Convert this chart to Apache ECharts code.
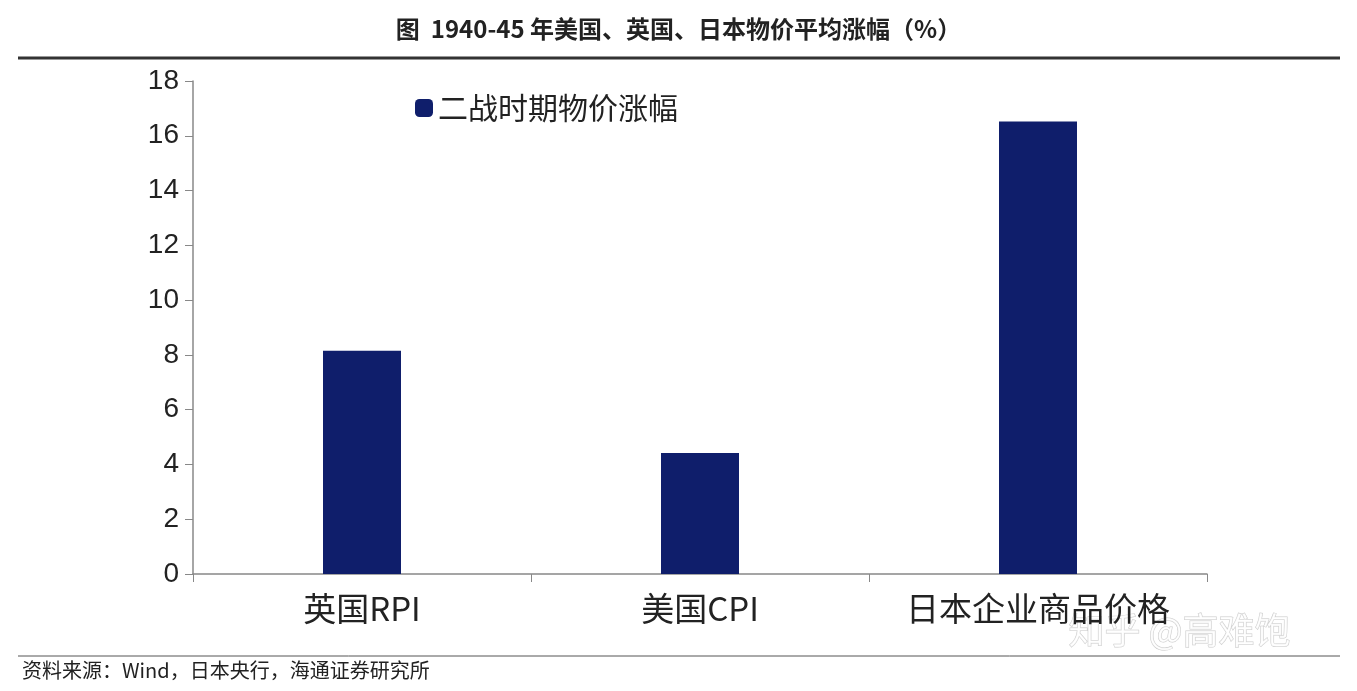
<!DOCTYPE html>
<html><head><meta charset="utf-8">
<script src="https://cdn.jsdelivr.net/npm/echarts@6/dist/echarts.min.js"></script>
<style>html,body{margin:0;padding:0;background:#fff}#c{width:1357px;height:691px}</style>
</head><body><div id="c"></div>
<script>
const categories = ['英国RPI', '美国CPI', '日本企业商品价格'];
const values = [8.15, 4.42, 16.52];
const seriesName = '二战时期物价涨幅';
const yTicks = [0, 2, 4, 6, 8, 10, 12, 14, 16, 18];
const font = '"Noto Sans CJK SC", sans-serif';
const chart = echarts.init(document.getElementById('c'));
chart.setOption({
  animation: false,
  backgroundColor: '#fff',
  title: {
    text: '图  1940-45 年美国、英国、日本物价平均涨幅（%）',
    left: 'center', top: 12,
    textStyle: { fontFamily: font, fontSize: 24, fontWeight: 'bold', color: '#222' }
  },
  legend: {
    data: [seriesName], left: 410, top: 88, itemWidth: 18, itemHeight: 18,
    textStyle: { fontFamily: font, fontSize: 30, color: '#222' }
  },
  grid: { left: 193, right: 150, top: 81, bottom: 117 },
  xAxis: {
    type: 'category', data: categories,
    axisLine: { lineStyle: { color: '#888', width: 1.5 } },
    axisTick: { show: true, length: 8, lineStyle: { color: '#888' } },
    axisLabel: { fontFamily: font, fontSize: 33, color: '#222', margin: 18, interval: 0 }
  },
  yAxis: {
    type: 'value', min: 0, max: 18, interval: 2,
    splitLine: { show: false },
    axisLine: { show: true, lineStyle: { color: '#888', width: 1.5 } },
    axisTick: { show: true, length: 8, lineStyle: { color: '#888' } },
    axisLabel: { fontFamily: 'Liberation Sans, Arial', fontSize: 28, color: '#222', margin: 14,
      formatter: v => yTicks.includes(v) ? String(v) : '' }
  },
  series: [{
    name: seriesName, type: 'bar', data: values, barWidth: 78,
    itemStyle: { color: '#0f1e6b' }
  }],
  graphic: [
    { type: 'line', shape: { x1: 18, y1: 58, x2: 1340, y2: 58 }, style: { stroke: '#333', lineWidth: 3 } },
    { type: 'line', shape: { x1: 18, y1: 656, x2: 1340, y2: 656 }, style: { stroke: '#555', lineWidth: 1 } },
    { type: 'text', left: 22, top: 660, style: { text: '资料来源：Wind，日本央行，海通证券研究所', fontFamily: font, fontSize: 20, fill: '#222' } },
    { type: 'text', left: 1068, top: 612, style: { text: '知乎 @高难饱', fontFamily: font, fontSize: 36, fill: 'rgba(255,255,255,0.75)', stroke: 'rgba(150,150,150,0.5)', lineWidth: 1 } }
  ]
});
</script></body></html>
